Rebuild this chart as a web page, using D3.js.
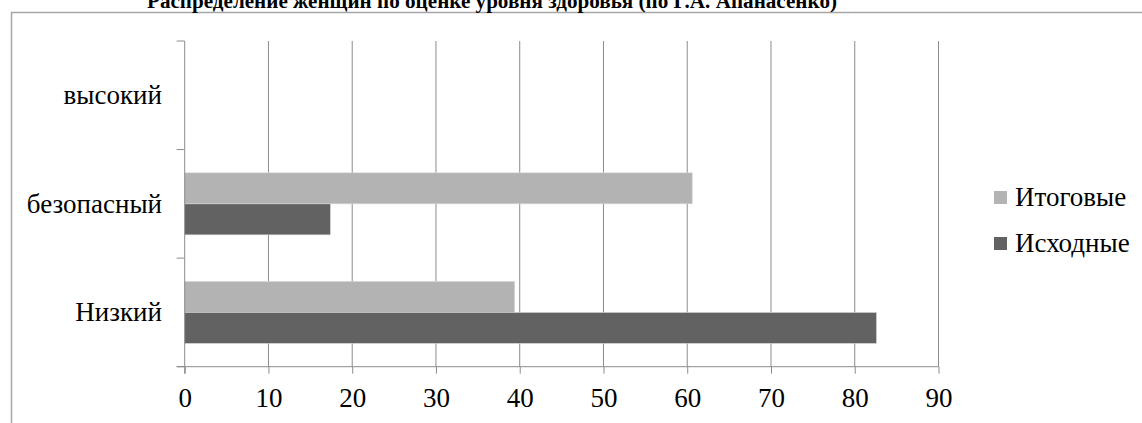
<!DOCTYPE html>
<html>
<head>
<meta charset="utf-8">
<script src="https://cdn.jsdelivr.net/npm/d3@7"></script>
</head>
<body style="margin:0;background:#fff">
<svg id="chart" width="1142" height="423" style="display:block"></svg>
<script>
// Health level categories (bottom to top on the chart)
const categories = ["Низкий", "безопасный", "высокий"];
const seriesNames = ["Итоговые", "Исходные"];
// Percent of women per level
const finalValues = [39.4, 60.6, 0];     // Итоговые
const initialValues = [82.6, 17.4, 0];   // Исходные
const xTicks = [0, 10, 20, 30, 40, 50, 60, 70, 80, 90];
const title = "Распределение женщин по оценке уровня здоровья (по Г.А. Апанасенко)";

const colors = { "Итоговые": "#b3b3b3", "Исходные": "#626262" };
const FONT = "Liberation Serif";
const FS = 27;

const svg = d3.select("#chart");
const W = 1142, H = 423;
const plot = { left: 184.7, right: 938.5, top: 41, bottom: 366.7 };

// Outer chart frame (runs past the right and bottom edges)
svg.append("rect")
  .attr("x", 11.5).attr("y", 12.5)
  .attr("width", W + 20).attr("height", H + 20)
  .attr("fill", "none").attr("stroke", "#a6a6a6").attr("stroke-width", 1.5);

// Title
const titleText = svg.append("text")
  .attr("x", 492).attr("y", 8)
  .attr("text-anchor", "middle")
  .attr("font-family", FONT)
  .attr("font-weight", "bold").attr("font-size", 20)
  .attr("fill", "#000")
  .text(title);
// Size the title to span about 690px
const tl = titleText.node().getComputedTextLength();
titleText.attr("font-size", 20 * 690 / tl);

const x = d3.scaleLinear().domain([0, 90]).range([plot.left, plot.right]);
const y = d3.scaleBand().domain(categories.slice().reverse())
  .range([plot.top, plot.bottom]).paddingInner(0).paddingOuter(0);
// Two bars per category, centred with a gap of 1.5 bar widths
const inner = d3.scaleBand().domain(seriesNames)
  .range([0, y.bandwidth()]).paddingOuter(0.75).paddingInner(0);

// Vertical gridlines
svg.append("g").selectAll("line").data(xTicks.filter(d => d > 0)).join("line")
  .attr("x1", d => x(d)).attr("x2", d => x(d))
  .attr("y1", plot.top).attr("y2", plot.bottom)
  .attr("stroke", "#8c8c8c").attr("stroke-width", 1);

// Bars
const rows = categories.map((c, i) => ({ cat: c, vals: [
  { s: "Итоговые", v: finalValues[i] },
  { s: "Исходные", v: initialValues[i] }
]}));
const g = svg.append("g");
rows.forEach(r => {
  g.selectAll(null).data(r.vals.filter(d => d.v > 0)).join("rect")
    .attr("x", x(0))
    .attr("y", d => y(r.cat) + inner(d.s))
    .attr("width", d => x(d.v) - x(0))
    .attr("height", inner.bandwidth())
    .attr("fill", d => colors[d.s])
    .attr("stroke", "#d9d9d9").attr("stroke-width", 0.6);
});

// X axis
const xAxis = d3.axisBottom(x).tickValues(xTicks).tickSize(7).tickSizeOuter(0);
const xg = svg.append("g").attr("transform", `translate(0,${plot.bottom})`).call(xAxis);
xg.attr("font-family", FONT).attr("font-size", FS);
xg.select(".domain").remove();
xg.append("line").attr("x1", plot.left - 8).attr("x2", plot.right)
  .attr("y1", 0).attr("y2", 0).attr("stroke", "#8c8c8c");
xg.selectAll(".tick line").attr("stroke", "#8c8c8c");
xg.selectAll(".tick text")
  .attr("y", 40).attr("dy", null)
  .attr("font-family", FONT).attr("font-size", FS).attr("fill", "#000");

// Y axis
const yg = svg.append("g");
yg.append("line").attr("x1", plot.left).attr("x2", plot.left)
  .attr("y1", plot.top).attr("y2", plot.bottom + 7).attr("stroke", "#8c8c8c");
const bounds = [plot.top, ...categories.slice().reverse().map(c => y(c) + y.bandwidth())];
yg.selectAll(".yt").data(bounds).join("line")
  .attr("x1", plot.left - 8).attr("x2", plot.left)
  .attr("y1", d => d).attr("y2", d => d).attr("stroke", "#8c8c8c");
yg.selectAll(".yl").data(categories).join("text")
  .attr("x", 162)
  .attr("y", d => y(d) + y.bandwidth() / 2 + 9)
  .attr("text-anchor", "end")
  .attr("font-family", FONT).attr("font-size", FS).attr("fill", "#000")
  .text(d => d);

// Legend
const lg = svg.append("g");
seriesNames.forEach((s, i) => {
  const yy = 191 + i * 46;
  lg.append("rect").attr("x", 994).attr("y", yy).attr("width", 13).attr("height", 13)
    .attr("fill", colors[s]);
  lg.append("text").attr("x", 1015).attr("y", yy + 15)
    .attr("font-family", FONT).attr("font-size", FS).attr("fill", "#000")
    .text(s);
});
</script>
</body>
</html>
